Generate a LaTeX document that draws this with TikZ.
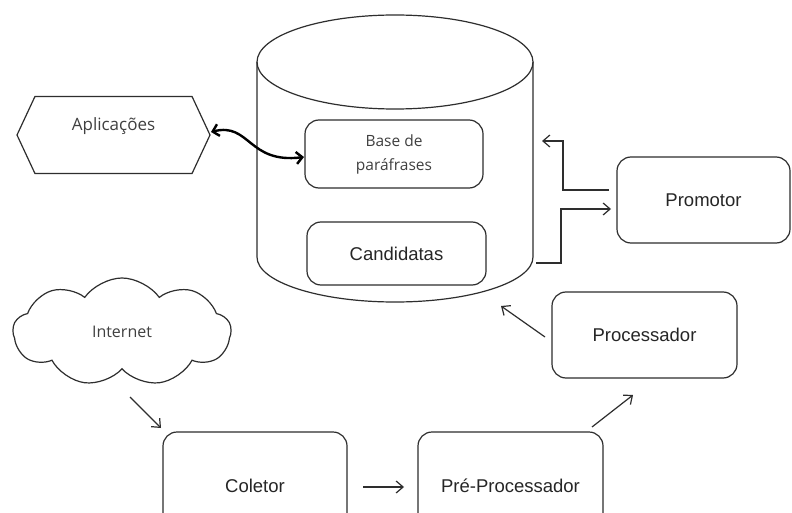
\documentclass[tikz,border=0pt]{standalone}
\usepackage{fontspec}
\setmainfont{Liberation Sans}
\newfontfamily\uifont{Open Sans}
\usetikzlibrary{arrows.meta,shapes.symbols,shapes.geometric}

\begin{document}
\begin{tikzpicture}[x=1pt,y=-1pt,
  ink/.style={draw=black!82, line width=1.2pt},
  box/.style={ink, rounded corners=14pt, font=\fontsize{18.5}{20}\selectfont, text=black!85},
  uitext/.style={font=\uifont\fontsize{16}{24}\selectfont, text=black!75},
  arr/.style={ink, -{Straight Barb[length=7pt,width=12pt]}},
  dblarr/.style={draw=black, line width=2.4pt, {Straight Barb[length=6pt,width=12pt]}-{Straight Barb[length=6pt,width=12pt]}}
]
\useasboundingbox (0,0) rectangle (792,513);
\clip (0,0) rectangle (792,513);
\fill[white] (0,0) rectangle (792,513);

% database cylinder
\draw[ink] (257,62) -- (257,257)
  arc[start angle=180, end angle=0, x radius=138, y radius=45] -- (533,62);
\draw[ink] (395,62) ellipse[x radius=138, y radius=47];

% stores inside the cylinder
\node[box, minimum width=178pt, minimum height=68pt, uitext, font=\uifont\fontsize{15.5}{24}\selectfont, align=center]
  (base) at (394,154) {Base de\\paráfrases};
\node[box, minimum width=179pt, minimum height=63pt] (cand) at (396.5,253.5) {Candidatas};

% applications hexagon
\node[ink, shape=signal, signal to=east and west, signal pointer angle=130,
  minimum width=193pt, minimum height=77pt, inner sep=0pt] (apps) at (113.5,135) {};
\node[uitext, font=\uifont\fontsize{17}{20}\selectfont] (appstxt) at (113.5,126) {Aplicações};

% processing components
\node[box, minimum width=173pt, minimum height=86pt] (promotor) at (703.5,200) {Promotor};
\node[box, minimum width=185pt, minimum height=86pt] (proc) at (644.5,335) {Processador};
\node[box, minimum width=184pt, minimum height=108pt] (coletor) at (255,486) {Coletor};
\node[box, minimum width=185pt, minimum height=108pt] (pre) at (510.5,486) {Pré-Processador};

% internet cloud
\node[ink, cloud, cloud puffs=9, cloud puff arc=110, cloud ignores aspect, minimum width=218pt, minimum height=108pt,
  uitext, font=\uifont\fontsize{16}{20}\selectfont] (internet) at (122,332) {Internet};

% connector end points
\coordinate (apOut) at (211,132);
\coordinate (baseIn) at (304,157);
\coordinate (promOut) at (609,190);
\coordinate (cylIn) at (542,141);
\coordinate (cylOut) at (536,263);
\coordinate (promIn) at (611,209);
\coordinate (procOut) at (545,337);
\coordinate (cylBot) at (501,306);
\coordinate (preOut) at (592,427);
\coordinate (procIn) at (633,395);
\coordinate (netOut) at (130,397);
\coordinate (coletorIn) at (161,428);
\coordinate (coletorOut) at (363,487);
\coordinate (preIn) at (404,487);

% connectors
\draw[dblarr] (apOut) .. controls (250,122) and (248,164) .. (baseIn);
\draw[arr] (promOut) -- (563,190) -- (563,141) -- (cylIn);
\draw[arr] (cylOut) -- (561,263) -- (561,209) -- (promIn);
\draw[arr] (procOut) -- (cylBot);
\draw[arr] (preOut) -- (procIn);
\draw[arr] (netOut) -- (coletorIn);
\draw[arr] (coletorOut) -- (preIn);
\end{tikzpicture}
\end{document}
